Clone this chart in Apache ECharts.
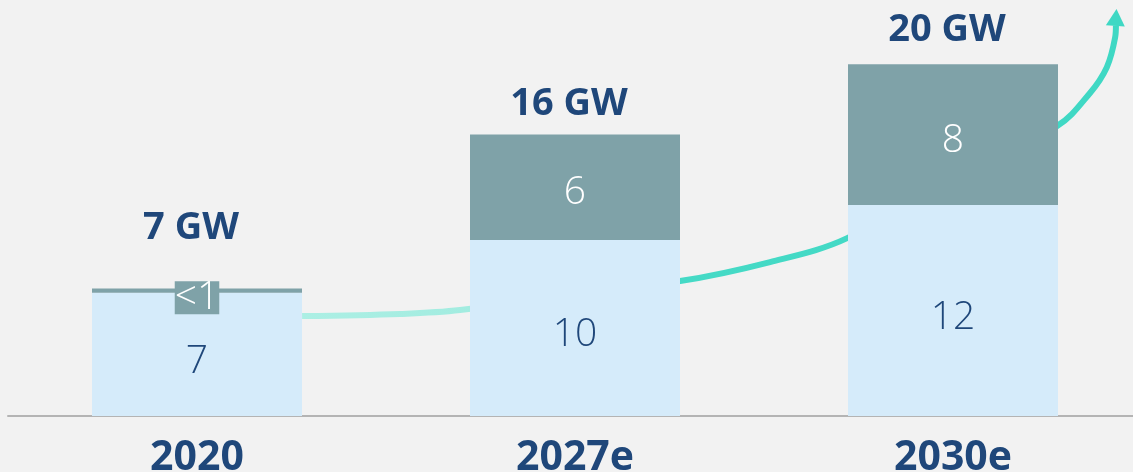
<!DOCTYPE html>
<html>
<head>
<meta charset="utf-8">
<script src="https://cdn.jsdelivr.net/npm/echarts@6/dist/echarts.min.js"></script>
<style>
  html, body { margin: 0; padding: 0; background: #f2f2f2; }
  #chart { width: 1133px; height: 472px; }
</style>
</head>
<body>
<div id="chart"></div>
<script>
// categories and stacked values (GW)
var categories = ['2020', '2027e', '2030e'];
var baseValues = [7, 10, 12];
var addedValues = [0.25, 6, 8];
var addedLabels = ['<1', '6', '8'];
var totalValues = [7, 16, 20];
var totalLabels = ['7 GW', '16 GW', '20 GW'];
// growth arrow, x in category units, y in GW
var curveX = [0.278, 0.537, 0.696, 1.278, 1.516, 1.72, 2.275, 2.362, 2.407, 2.429, 2.431];
var curveY = [5.68, 5.8, 6.02, 7.67, 8.75, 10.11, 16.48, 18.35, 19.83, 21.53, 22.2];

var darkBlue = '#1f477a';
var totalGap = [46, 11, 15];

var baseData = baseValues.map(function(v) {
	return { value: v };
});
var addedData = addedValues.map(function(v, i) {
	var item = { value: v, label: { formatter: addedLabels[i] } };
	if (i == 0) {
		// tiny segment, label gets its own box
		item.label.backgroundColor = '#7fa2a8';
		item.label.lineHeight = 33;
		item.label.padding = [0, 0];
		item.label.offset = [0, 7];
	}
	return item;
});
var totalData = totalValues.map(function(v, i) {
	return { value: v, label: { formatter: totalLabels[i], distance: totalGap[i] } };
});
var curveData = curveX.map(function(x, i) {
	var p = { value: [x, curveY[i]], symbol: 'none' };
	if (i == curveX.length - 1) {
		p.symbol = 'triangle';
		p.symbolSize = [19, 17];
		p.symbolOffset = [0, -8];
		p.symbolRotate = -4;
	}
	return p;
});

var option = {
	backgroundColor: '#f2f2f2',
	animation: false,
	grid: { left: 8, width: 1134, top: 29, bottom: 56, outerBoundsMode: 'none', containLabel: false },
	xAxis: [ {
		type: 'category',
		data: categories,
		axisLine: { lineStyle: { color: '#b4b4b4', width: 2 } },
		axisTick: { show: false },
		axisLabel: {
			color: darkBlue,
			fontFamily: 'Open Sans',
			fontWeight: 'bold',
			fontSize: 41,
			margin: 22
		}
	}, {
		type: 'value',
		min: -0.5,
		max: 2.5,
		show: false
	} ],
	yAxis: {
		type: 'value',
		min: 0,
		max: 22,
		show: false,
		splitLine: { show: false }
	},
	series: [ {
		name: 'curve',
		type: 'line',
		xAxisIndex: 1,
		smooth: 0.35,
		clip: false,
		z: 1,
		showSymbol: true,
		lineStyle: {
			width: 6,
			color: new echarts.graphic.LinearGradient(0, 0, 1, 0, [
				{ offset: 0, color: '#acefe4' },
				{ offset: 0.22, color: '#a2ece0' },
				{ offset: 0.44, color: '#46dac6' },
				{ offset: 1, color: '#3fd8c4' }
			])
		},
		itemStyle: { color: '#3fd8c4' },
		data: curveData
	}, {
		name: 'base',
		type: 'bar',
		stack: 'gw',
		barWidth: 210,
		z: 2,
		itemStyle: { color: '#d5ebfa' },
		label: {
			show: true,
			position: 'inside',
			offset: [0, 7],
			color: darkBlue,
			fontFamily: 'Open Sans',
			fontWeight: 300,
			fontSize: 39
		},
		data: baseData
	}, {
		name: 'added',
		type: 'bar',
		stack: 'gw',
		barWidth: 210,
		z: 2,
		itemStyle: { color: '#7fa2a8' },
		label: {
			show: true,
			position: 'inside',
			offset: [0, 6],
			color: '#ffffff',
			fontFamily: 'Open Sans',
			fontWeight: 300,
			fontSize: 39
		},
		data: addedData
	}, {
		name: 'total',
		type: 'scatter',
		symbolSize: 0,
		z: 3,
		itemStyle: { opacity: 1 },
		label: {
			show: true,
			position: 'top',
			offset: [-6, 0],
			color: darkBlue,
			fontFamily: 'Open Sans',
			fontWeight: 'bold',
			fontSize: 38
		},
		data: totalData
	} ]
};

var myChart = echarts.init(document.getElementById('chart'));
myChart.setOption(option);
</script>
</body>
</html>
